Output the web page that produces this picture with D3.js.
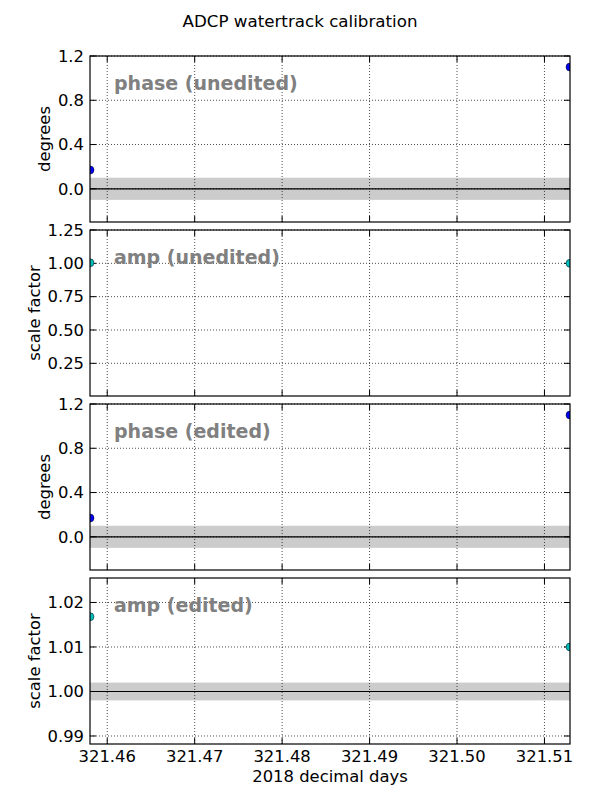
<!DOCTYPE html>
<html>
<head>
<meta charset="utf-8">
<script src="https://cdn.jsdelivr.net/npm/d3@7"></script>
<style>
  body { margin: 0; background: #fff; }
  svg text { font-family: "DejaVu Sans", sans-serif; }
</style>
</head>
<body>
<svg id="chart" width="600" height="800"></svg>
<script>
// x values: two watertrack calibration times (2018 decimal days)
var days = [321.45803, 321.51292];
var xTicks = [321.46, 321.47, 321.48, 321.49, 321.50, 321.51];

// one entry per panel
var panelNames = ['phase (unedited)', 'amp (unedited)', 'phase (edited)', 'amp (edited)'];
var panelLabels = ['degrees', 'scale factor', 'degrees', 'scale factor'];
var phaseUnedited = [0.17, 1.10];
var ampUnedited = [1.004, 1.000];
var phaseEdited = [0.17, 1.10];
var ampEdited = [1.0168, 1.010];
var yDomains = [[-0.3, 1.2], [0.005, 1.25], [-0.3, 1.2], [0.9882, 1.0255]];
var yTicks = [[0.0, 0.4, 0.8, 1.2], [0.25, 0.5, 0.75, 1.0, 1.25], [0.0, 0.4, 0.8, 1.2], [0.99, 1.00, 1.01, 1.02]];
var yFormats = ['.1f', '.2f', '.1f', '.2f'];
var refValues = [0, null, 0, 1];
var bandHalf = [0.1, null, 0.1, 0.002];
var pointColors = ['#0000ff', '#00bfbf', '#0000ff', '#00bfbf'];

var series = [phaseUnedited, ampUnedited, phaseEdited, ampEdited];

var svg = d3.select('#chart');
var left = 90, right = 570;
var tops = [56, 230, 404, 578];
var panelH = 166;
var fs = 16.4;

var x = d3.scaleLinear().domain([days[0], days[1]]).range([left, right]);

svg.append('text')
  .attr('x', 300).attr('y', 27)
  .attr('text-anchor', 'middle')
  .style('font-size', '16.7px')
  .text('ADCP watertrack calibration');

series.forEach(function(vals, p) {
  var top = tops[p], bottom = top + panelH;
  var y = d3.scaleLinear().domain(yDomains[p]).range([bottom, top]);
  var g = svg.append('g');

  g.append('clipPath').attr('id', 'clip' + p)
    .append('rect').attr('x', left).attr('y', top)
    .attr('width', right - left).attr('height', panelH);

  // reference band and line
  if (bandHalf[p] !== null) {
    g.append('rect')
      .attr('x', left).attr('width', right - left)
      .attr('y', y(refValues[p] + bandHalf[p]))
      .attr('height', y(refValues[p] - bandHalf[p]) - y(refValues[p] + bandHalf[p]))
      .attr('fill', '#cccccc');
  }

  // grid
  g.selectAll('.vgrid').data(xTicks).enter().append('line')
    .attr('x1', d => x(d)).attr('x2', d => x(d))
    .attr('y1', top).attr('y2', bottom)
    .attr('stroke', '#000').attr('stroke-width', 0.7)
    .attr('stroke-dasharray', '1,2');
  g.selectAll('.hgrid').data(yTicks[p]).enter().append('line')
    .attr('x1', left).attr('x2', right)
    .attr('y1', d => y(d)).attr('y2', d => y(d))
    .attr('stroke', '#000').attr('stroke-width', 0.7)
    .attr('stroke-dasharray', '1,2');

  if (refValues[p] !== null) {
    g.append('line')
      .attr('x1', left).attr('x2', right)
      .attr('y1', y(refValues[p])).attr('y2', y(refValues[p]))
      .attr('stroke', '#000').attr('stroke-width', 1.2);
  }

  // tick marks inward on all four sides
  var tl = 6;
  xTicks.forEach(function(t) {
    g.append('line').attr('x1', x(t)).attr('x2', x(t)).attr('y1', top).attr('y2', top + tl).attr('stroke', '#000');
    g.append('line').attr('x1', x(t)).attr('x2', x(t)).attr('y1', bottom).attr('y2', bottom - tl).attr('stroke', '#000');
  });
  yTicks[p].forEach(function(t) {
    g.append('line').attr('x1', left).attr('x2', left + tl).attr('y1', y(t)).attr('y2', y(t)).attr('stroke', '#000');
    g.append('line').attr('x1', right).attr('x2', right - tl).attr('y1', y(t)).attr('y2', y(t)).attr('stroke', '#000');
  });

  // points
  g.append('g').attr('clip-path', 'url(#clip' + p + ')')
    .selectAll('circle').data(vals).enter().append('circle')
    .attr('cx', (d, i) => x(days[i]))
    .attr('cy', d => y(d))
    .attr('r', 4)
    .attr('fill', pointColors[p])
    .attr('stroke', '#000').attr('stroke-width', 0.5);

  // frame
  g.append('rect')
    .attr('x', left).attr('y', top)
    .attr('width', right - left).attr('height', panelH)
    .attr('fill', 'none').attr('stroke', '#000').attr('stroke-width', 1.2);

  // y tick labels
  var fmt = d3.format(yFormats[p]);
  var labs = g.append('g');
  labs.selectAll('text').data(yTicks[p]).enter().append('text')
    .attr('x', left - 6).attr('y', d => y(d))
    .attr('dy', '0.35em')
    .attr('text-anchor', 'end')
    .style('font-size', fs + 'px')
    .text(d => fmt(d));
  var bb = labs.node().getBBox();

  g.append('text')
    .attr('transform', 'translate(' + (bb.x - 8) + ',' + (top + panelH / 2) + ') rotate(-90)')
    .attr('text-anchor', 'middle')
    .style('font-size', fs + 'px')
    .text(panelLabels[p]);

  // panel name
  g.append('text')
    .attr('x', left + 24).attr('y', top + 34)
    .style('font-size', '19px')
    .style('font-weight', 'bold')
    .attr('fill', '#808080')
    .text(panelNames[p]);

  if (p === 3) {
    g.selectAll('.xl').data(xTicks).enter().append('text')
      .attr('x', d => x(d)).attr('y', bottom + 18)
      .attr('text-anchor', 'middle')
      .style('font-size', fs + 'px')
      .text(d => d3.format('.2f')(d));
    g.append('text')
      .attr('x', (left + right) / 2).attr('y', 782)
      .attr('text-anchor', 'middle')
      .style('font-size', fs + 'px')
      .text('2018 decimal days');
  }
});
</script>
</body>
</html>
